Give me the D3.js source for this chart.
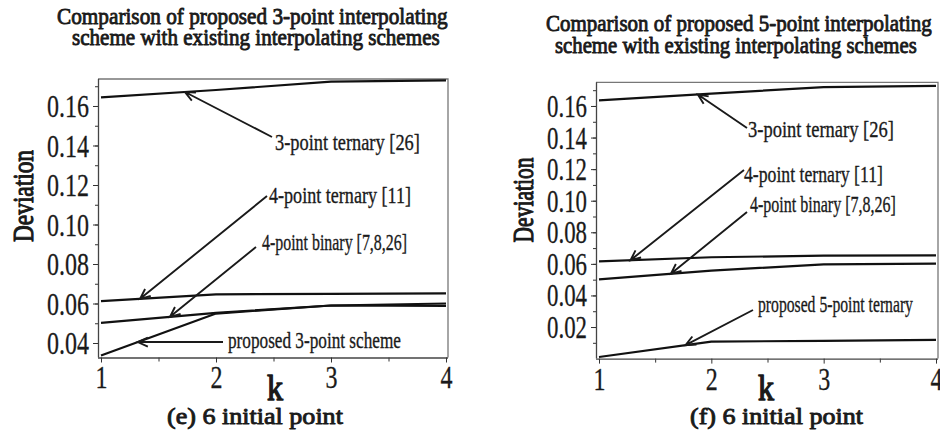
<!DOCTYPE html>
<html>
<head>
<meta charset="utf-8">
<script src="https://cdn.jsdelivr.net/npm/d3@7"></script>
<style>
  html, body { margin: 0; padding: 0; background: #fff; }
  svg { display: block; }
</style>
</head>
<body>
<svg id="chart" width="940" height="433"></svg>
<script>
// ---- data ----
const kValues = [1, 2, 3, 4];

// panel (e): 3-point scheme comparison
const ternary3E  = [0.1644, 0.1681, 0.1723, 0.1730];
const ternary4E  = [0.0612, 0.0646, 0.0649, 0.0651];
const binary4E   = [0.0502, 0.0553, 0.0590, 0.0600];
const proposed3E = [0.0337, 0.0549, 0.0590, 0.0588];
const yTicksE = [0.04, 0.06, 0.08, 0.10, 0.12, 0.14, 0.16];
const yMinorE = [0.04, 0.05, 0.06, 0.07, 0.08, 0.09, 0.10, 0.11, 0.12, 0.13, 0.14, 0.15, 0.16, 0.17];

// panel (f): 5-point scheme comparison
const ternary3F  = [0.1636, 0.1678, 0.1720, 0.1727];
const ternary4F  = [0.0616, 0.0642, 0.0652, 0.0654];
const binary4F   = [0.0502, 0.0557, 0.0597, 0.0601];
const proposed5F = [0.0010, 0.0108, 0.0112, 0.0118];
const yTicksF = [0.02, 0.04, 0.06, 0.08, 0.10, 0.12, 0.14, 0.16];
const yMinorF = [0.01, 0.02, 0.03, 0.04, 0.05, 0.06, 0.07, 0.08, 0.09, 0.10, 0.11, 0.12, 0.13, 0.14, 0.15, 0.16, 0.17];

const xTicks = [1, 2, 3, 4];
const xMinor = [1.5, 2.5, 3.5];

const labelsE = ["3-point ternary [26]", "4-point ternary [11]", "4-point binary [7,8,26]", "proposed 3-point scheme"];
const labelsF = ["3-point ternary [26]", "4-point ternary [11]", "4-point binary [7,8,26]", "proposed 5-point ternary"];
const arrowKE = [1.73, 1.34, 1.60, 1.32];
const arrowKF = [1.88, 1.28, 1.64, 1.77];

const titlesE = ["Comparison of proposed 3-point interpolating", "scheme with existing interpolating schemes"];
const titlesF = ["Comparison of proposed 5-point interpolating", "scheme with existing interpolating schemes"];
const captionE = "(e) 6 initial point";
const captionF = "(f) 6 initial point";

// ---- drawing ----
const INK = "#1a1a1a";
const FONT = "'Liberation Serif', 'Times New Roman', serif";
const svg = d3.select("#chart");

// Text is set in a regular serif face, condensed horizontally to the given
// width; heavy weights get an outline stroke over the regular glyphs.
function addText(g, str, x, y, o) {
  const t = g.append("text")
    .attr("x", 0).attr("y", 0)
    .attr("font-family", FONT)
    .attr("font-size", o.size)
    .attr("text-anchor", o.anchor || "start")
    .attr("fill", INK)
    .text(str);
  if (o.heavy) t.attr("stroke", INK).attr("stroke-width", o.heavy).attr("stroke-linejoin", "round");
  const sx = o.width ? o.width / t.node().getComputedTextLength() : 1;
  t.attr("transform", `translate(${x},${y}) rotate(${o.rotate || 0}) scale(${sx},1)`);
  return t;
}

// condense axis tick labels about their anchor point
function condenseTicks(sel, width) {
  sel.each(function () {
    const t = d3.select(this);
    const sx = width / this.getComputedTextLength();
    const x0 = +t.attr("x") || 0;
    t.attr("x", x0 / sx).attr("transform", `scale(${sx},1)`);
  });
}

function drawArrow(g, x0, y0, x1, y1) {
  const ang = Math.atan2(y1 - y0, x1 - x0);
  const len = 11, spread = 0.42;
  const b1 = [x1 - len * Math.cos(ang - spread), y1 - len * Math.sin(ang - spread)];
  const b2 = [x1 - len * Math.cos(ang + spread), y1 - len * Math.sin(ang + spread)];
  g.append("path")
    .attr("d", `M${x0},${y0}L${x1},${y1}M${b1[0]},${b1[1]}L${x1},${y1}L${b2[0]},${b2[1]}`)
    .attr("fill", "none").attr("stroke", INK).attr("stroke-width", 1.9)
    .attr("stroke-linejoin", "miter");
}

function drawPanel(p) {
  const g = svg.append("g");
  const x = d3.scaleLinear().domain([1, 4]).range(p.xRange);
  const y = d3.scaleLinear().domain(p.yDomain).range(p.yRange);
  const left = p.xRange[0] - 3, right = p.xRange[1] + 2;
  const top = p.yRange[1], bottom = p.yRange[0];

  // frame (top and right edges)
  g.append("path")
    .attr("d", `M${left},${top}L${right},${top}L${right},${bottom}`)
    .attr("fill", "none").attr("stroke", "#777").attr("stroke-width", 1.3);

  // y axis: minor then major ticks
  const yMinorAxis = g.append("g").attr("transform", `translate(${left},0)`)
    .call(d3.axisLeft(y).tickValues(p.yMinor).tickSize(3).tickFormat(""));
  yMinorAxis.select(".domain").remove();
  yMinorAxis.selectAll("line").attr("stroke", "#333");

  const yAxis = g.append("g").attr("transform", `translate(${left},0)`)
    .call(d3.axisLeft(y).tickValues(p.yTicks).tickSize(5).tickSizeOuter(0).tickPadding(4)
      .tickFormat(d3.format(".2f")));
  yAxis.select(".domain").attr("stroke", "#444").attr("stroke-width", 1.3)
    .attr("d", `M0.5,${top}V${bottom}`);
  yAxis.selectAll("line").attr("stroke", "#333");
  yAxis.selectAll("text")
    .attr("font-family", FONT).attr("font-size", p.tickFont)
    .attr("fill", INK).attr("stroke", INK).attr("stroke-width", 0.3).attr("dy", "0.34em")
    .call(condenseTicks, p.yLabelWidth);

  // x axis
  const xMinorAxis = g.append("g").attr("transform", `translate(0,${bottom})`)
    .call(d3.axisBottom(x).tickValues(xMinor).tickSize(4).tickFormat(""));
  xMinorAxis.select(".domain").remove();
  xMinorAxis.selectAll("line").attr("stroke", "#333");

  const xAxis = g.append("g").attr("transform", `translate(0,${bottom})`)
    .call(d3.axisBottom(x).tickValues(xTicks).tickSize(5).tickSizeOuter(0).tickFormat(d3.format("d")));
  xAxis.select(".domain").attr("stroke", "#444").attr("stroke-width", 1.3)
    .attr("d", `M${left},0.5H${right}`);
  xAxis.selectAll("line").attr("stroke", "#333");
  xAxis.selectAll("text")
    .attr("font-family", FONT).attr("font-size", 32)
    .attr("fill", INK).attr("stroke", INK).attr("stroke-width", 0.3)
    .attr("y", 31).attr("dy", 0)
    .call(condenseTicks, 12);

  // series lines
  const line = d3.line().x((d, i) => x(kValues[i])).y(d => y(d));
  p.series.forEach(s => {
    g.append("path").datum(s).attr("d", line)
      .attr("fill", "none").attr("stroke", "#111").attr("stroke-width", 2.2)
      .attr("stroke-linejoin", "round");
  });

  // annotations with arrows pointing onto the series
  p.labels.forEach((lab, i) => {
    const s = p.series[i];
    const k = p.arrowK[i];
    const j = Math.min(Math.floor(k) - 1, 2);
    const t = k - kValues[j];
    const v = s[j] + (s[j + 1] - s[j]) * t;
    const a = p.anno[i];
    drawArrow(g, a.tx, a.ty, x(k), y(v));
    addText(g, lab, a.lx, a.ly, { size: 24, width: a.w, heavy: 0.35 });
  });

  // titles, axis titles, caption
  p.titles.forEach((tt, i) => addText(g, tt, p.titlePos[i].x, p.titlePos[i].y,
    { size: 24, width: p.titlePos[i].w, heavy: 0.9 }));
  addText(g, "Deviation", p.dev.x, p.dev.y, { size: 30, width: p.dev.w, rotate: -90, anchor: "middle", heavy: 1.1 });
  addText(g, "k", p.kPos.x, p.kPos.y, { size: 35, width: 16, heavy: 1.3 });
  addText(g, p.caption, p.capPos.x, p.capPos.y, { size: 24, width: p.capPos.w, heavy: 0.9 });
}

drawPanel({
  xRange: [101, 446],
  yDomain: [0.03266, 0.17367],
  yRange: [357.5, 79],
  yTicks: yTicksE, yMinor: yMinorE,
  tickFont: 32, yLabelWidth: 42,
  series: [ternary3E, ternary4E, binary4E, proposed3E],
  labels: labelsE, arrowK: arrowKE,
  anno: [
    { tx: 272, ty: 137, lx: 275, ly: 150, w: 145 },
    { tx: 267, ty: 196, lx: 269, ly: 203, w: 142 },
    { tx: 256, ty: 247, lx: 262, ly: 250, w: 145 },
    { tx: 223, ty: 342, lx: 228, ly: 348, w: 173 }
  ],
  titles: titlesE,
  titlePos: [{ x: 57, y: 24, w: 391 }, { x: 72, y: 45, w: 368 }],
  dev: { x: 33, y: 196, w: 92 },
  kPos: { x: 267, y: 400 },
  caption: captionE, capPos: { x: 167, y: 424, w: 176 }
});

drawPanel({
  xRange: [599, 936],
  yDomain: [0, 0.175],
  yRange: [358.6, 82.3],
  yTicks: yTicksF, yMinor: yMinorF,
  tickFont: 31, yLabelWidth: 40,
  series: [ternary3F, ternary4F, binary4F, proposed5F],
  labels: labelsF, arrowK: arrowKF,
  anno: [
    { tx: 747, ty: 128, lx: 748, ly: 137, w: 146 },
    { tx: 744, ty: 170, lx: 744, ly: 182, w: 139 },
    { tx: 747, ty: 212, lx: 750, ly: 212, w: 146 },
    { tx: 753, ty: 310, lx: 758, ly: 312, w: 155 }
  ],
  titles: titlesF,
  titlePos: [{ x: 546, y: 31, w: 386 }, { x: 555, y: 53, w: 362 }],
  dev: { x: 533, y: 200, w: 85 },
  kPos: { x: 758, y: 400 },
  caption: captionF, capPos: { x: 690, y: 424, w: 173 }
});
</script>
</body>
</html>
